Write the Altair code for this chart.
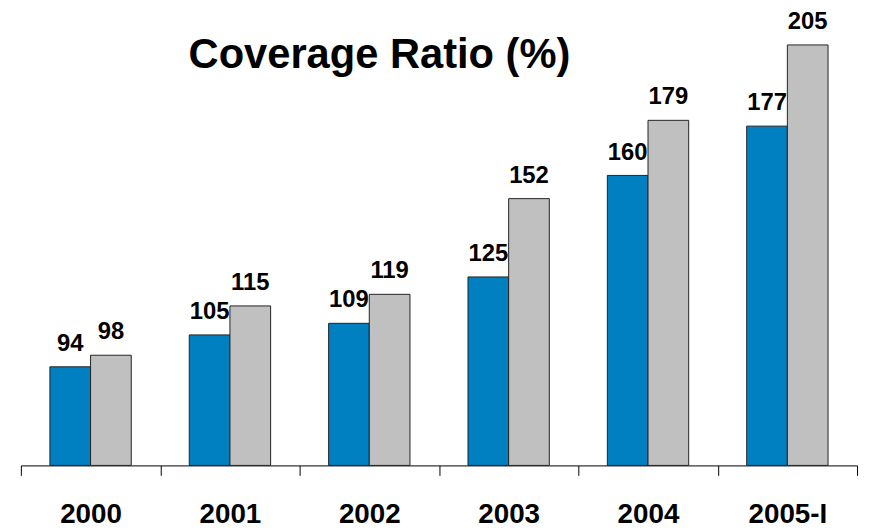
import altair as alt
import pandas as pd

years = ["2000", "2001", "2002", "2003", "2004", "2005-I"]
blue_vals = [94, 105, 109, 125, 160, 177]
gray_vals = [98, 115, 119, 152, 179, 205]
series = ["Series 1", "Series 2"]
colors = ["#0080C0", "#C0C0C0"]

rows = []
for i, yr in enumerate(years):
    rows.append({"year": yr, "series": series[0], "value": blue_vals[i]})
    rows.append({"year": yr, "series": series[1], "value": gray_vals[i]})
df = pd.DataFrame(rows)

FONT = "Liberation Sans"

x = alt.X(
    "year:N", sort=years,
    scale=alt.Scale(paddingInner=0, paddingOuter=0),
    axis=alt.Axis(
        title=None, tickBand="extent", labelAngle=0, labelFont=FONT,
        labelFontWeight="bold", labelFontSize=28, labelColor="black",
        domainColor="black", tickColor="black", tickSize=10,
        labelPadding=48, labelBaseline="alphabetic", grid=False,
    ),
)
xo = alt.XOffset("series:N", sort=series,
                 scale=alt.Scale(paddingInner=0, paddingOuter=0.713))
y = alt.Y("value:Q", scale=alt.Scale(domain=[60, 217], zero=False, nice=False),
          axis=None)

base = alt.Chart(df).encode(x=x, xOffset=xo, y=y)

bars = base.mark_bar(stroke="#222222", strokeWidth=1).encode(
    y2=alt.datum(60),
    color=alt.Color("series:N", scale=alt.Scale(domain=series, range=colors),
                    legend=None),
)
labels = base.mark_text(
    dy=-16, baseline="alphabetic", font=FONT, fontWeight="bold",
    fontSize=24, color="black",
).encode(text="value:Q")

chart = (bars + labels).properties(
    width=843, height=459,
    autosize=alt.AutoSizeParams(type="none"),
    padding={"left": 13, "top": 0, "right": 6, "bottom": 68},
    title=alt.TitleParams(
        "Coverage Ratio (%)", font=FONT, fontWeight="bold", fontSize=42,
        color="black", anchor="middle", frame="group", dx=-60, offset=0,
        baseline="alphabetic", dy=100,
    ),
).configure_view(stroke=None)

chart.save("out.html", embed_options={"renderer": "svg", "actions": False})
